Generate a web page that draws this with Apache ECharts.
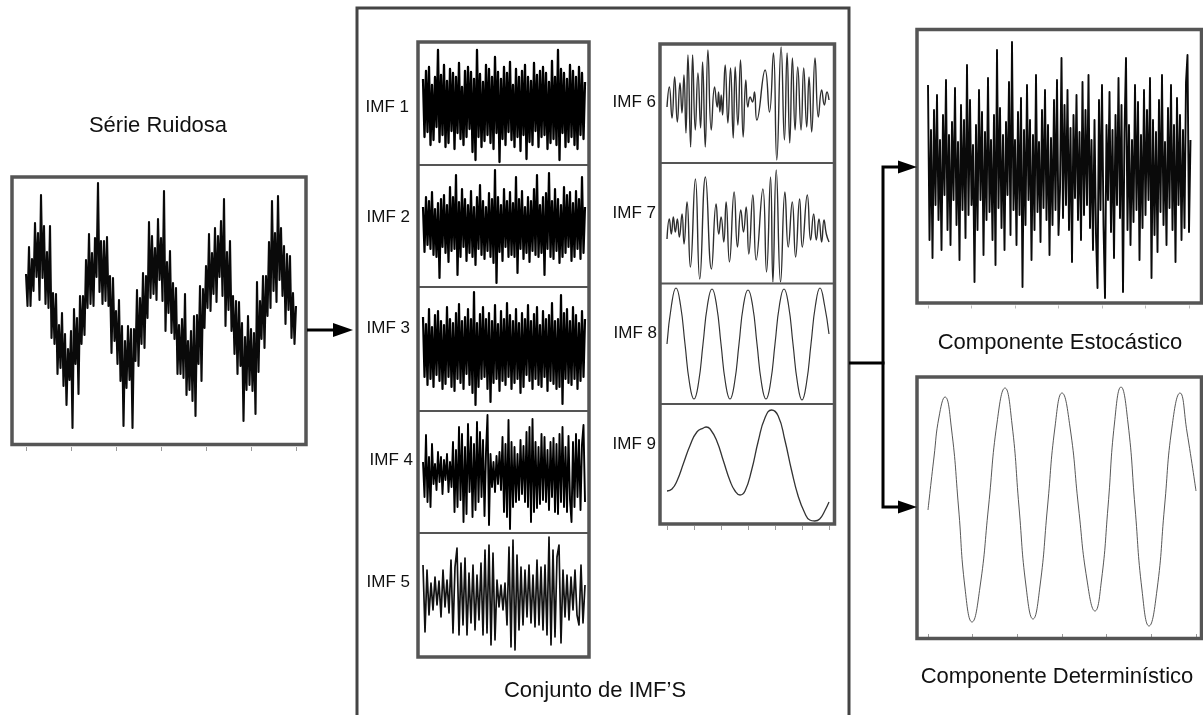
<!DOCTYPE html>
<html>
<head>
<meta charset="utf-8">
<script src="https://cdn.jsdelivr.net/npm/echarts@6/dist/echarts.min.js"></script>
<style>
  html, body { margin: 0; padding: 0; background: #fff; }
  #chart { width: 1203px; height: 715px; }
</style>
</head>
<body>
<div id="chart"></div>
<script>
// ---- Signals (uniformly sampled series are plain arrays, others are [t, value]) ----
const serieRuidosa = [
  37,5,64,5,52,20,88,34,78,11,
  116,33,85,7,59,3,85,-27,18,-33,
  17,-63,-14,-57,-2,-75,-23,-94,-38,-69,
  -20,-117,2,-53,-7,-83,15,-33,15,-24,
  51,3,77,7,58,5,73,34,128,19,
  70,7,70,10,74,5,35,-42,33,-30,
  0,-53,11,-70,-15,-115,-30,-77,-15,-69,
  -18,-117,-18,-50,21,-55,13,-33,38,-37,
  35,-7,89,13,75,17,63,11,92,31,
  73,10,120,-20,49,-2,60,-22,28,-28,
  23,-63,-14,-63,-8,-67,17,-84,-30,-79,
  -20,-90,-5,-105,-4,-53,25,-70,22,-17,
  45,3,77,0,58,17,83,9,75,34,
  90,15,112,-15,59,1,70,-20,15,-43,
  10,-63,9,-55,-12,-110,-26,-79,-5,-74,
  -18,-80,-22,-103,29,-61,10,-28,35,-37,
  35,-5,69,3,110,20,78,9,115,31,
  83,15,65,-13,57,1,55,-27,18,-33,
  5
];

const imf1 = [
  28,-30,36,-25,40,-38,22,-33,30,-20,
  57,-35,32,-28,42,-40,26,-36,38,-24,
  34,-42,30,-26,44,-32,20,-38,36,-30,
  40,-22,35,-45,28,-53,57,-30,33,-40,
  25,-34,42,-28,38,-36,30,-42,50,-26,
  35,-55,28,-32,40,-38,34,-25,45,-33,
  22,-40,38,-30,30,-44,36,-28,42,-52,
  30,-35,26,-38,44,-24,32,-40,36,-30,
  40,-28,34,-42,25,-36,46,-32,30,-38,
  57,-53,38,-26,34,-40,28,-35,42,-30,
  36,-38,30,-42,40,-28,34,-32,25
];

const imf2 = [
  20,-25,30,-18,26,-22,35,-28,18,-30,
  24,-51,28,-20,32,-26,22,-35,40,-24,
  30,-22,52,-48,25,-30,38,-20,28,-34,
  22,-26,36,-30,20,-38,30,-22,42,-28,
  26,-32,20,-24,34,-30,28,-36,57,-56,
  30,-25,22,-34,38,-20,26,-30,35,-28,
  24,-30,50,-46,28,-22,36,-32,20,-26,
  30,-35,26,-24,38,-28,52,-30,22,-26,
  30,-48,34,-22,54,-30,26,-32,38,-24,
  28,-36,22,-30,40,-26,32,-20,35,-34,
  24,-30,36,-22,28,-32,50,-26,20
];

const imf3 = [
  32,-28,25,-36,40,-30,22,-38,34,-26,
  38,-32,28,-40,24,-35,42,-28,30,-38,
  26,-42,36,-30,45,-34,28,-40,32,-25,
  40,-36,30,-44,57,-56,26,-38,35,-30,
  42,-28,30,-40,36,-53,28,-34,44,-30,
  25,-42,38,-32,30,-36,46,-28,34,-40,
  28,-34,40,-30,26,-44,36,-38,30,-26,
  44,-32,28,-40,35,-30,42,-36,24,-38,
  38,-28,30,-42,34,-32,46,-35,28,-40,
  30,-38,54,-55,36,-30,40,-34,28,-36,
  42,-30,34,-40,26,-32,38,-28,30
];

const imf4 = [
  10,-25,37,-30,15,-35,28,-12,8,-18,
  20,-10,15,-22,12,-8,18,-20,10,-15,
  30,-40,22,-35,45,-28,38,-50,25,-42,
  48,-20,35,-45,28,-38,50,-30,40,-25,
  32,-44,20,57,-53,18,-15,10,-20,16,
  -12,20,-18,35,-40,28,-45,52,-57,30,
  -35,25,-30,18,-28,32,-22,26,-30,40,
  -35,45,-50,53,-40,30,-36,25,-32,38,
  -28,35,-30,22,-38,30,-25,34,-40,28,
  -42,38,-30,45,-35,25,-40,36,-28,-50,
  30,-35,38,-25,32,-38,28,47,-30
];

const imf5 = [
  30,-37,25,-20,12,-15,18,-10,14,-22,
  25,-12,15,-18,35,-38,28,47,-40,32,
  -30,37,-40,22,-28,30,-35,20,-25,32,
  -40,45,-38,50,-50,42,-45,15,-12,10,
  -15,12,-30,48,-52,55,-55,40,-35,28,
  -30,25,-22,30,-28,20,-32,35,-30,28,
  -35,30,-40,58,-50,45,-42,38,50,-48,
  25,-22,20,-25,18,-15,25,-20,-30,30,
  -28,10
];

const imf6 = [
  [0,0],[7,20],[15,-11],[23,30],[31,-15],[39,24],[45,-6],[51,32],[57,-26],[63,52],
  [71,-40],[77,52],[85,-23],[93,34],[101,-21],[107,45],[115,-40],[123,57],[133,-23],[143,20],
  [151,0],[155,15],[159,-5],[163,12],[167,-8],[170,10],[175,42],[183,-16],[191,39],[199,-31],
  [205,40],[213,-18],[221,47],[229,-30],[237,27],[243,0],[250,10],[257,5],[263,15],[270,-13],
  [295,37],[308,-5],[320,54],[330,-53],[343,60],[353,-33],[361,54],[369,-36],[377,49],[385,-23],
  [393,40],[403,-23],[411,39],[420,-20],[427,30],[435,-25],[445,49],[455,-10],[465,17],[473,2],
  [481,15],[487,7]
];

const imf7 = [
  [0,-12],[7,8],[13,-7],[19,10],[25,-5],[31,8],[37,-10],[45,13],[51,-17],[60,25],
  [70,-40],[85,48],[98,-52],[115,50],[133,-42],[147,23],[155,-7],[162,10],[170,-15],[177,25],
  [187,-35],[201,35],[211,-20],[221,17],[229,-5],[237,20],[245,-27],[257,32],[267,-33],[287,38],
  [298,-45],[310,50],[317,-55],[327,57],[340,-55],[353,35],[363,-20],[375,25],[385,-30],[397,28],
  [405,-20],[420,32],[430,-13],[439,13],[447,-13],[455,8],[463,-15],[470,7],[477,-7],[485,-15]
];

const imf8 = [
  0,39,56,39,0,-39,-55,-39,
  0,39,55,39,0,-39,-55,-39,
  0,39,54,39,0,-39,-55,-39,
  0,39,55,39,0,-39,-56,-39,
  0,39,56,39,10
];

const imf9 = [
  [0,-28],[15,-26],[30,-18],[50,0],[70,18],[90,31],[110,35],[118,36],[130,34],[150,22],
  [170,2],[190,-18],[205,-28],[220,-32],[235,-28],[255,-7],[275,22],[295,45],[315,53],[335,47],
  [355,23],[375,-7],[395,-33],[415,-50],[430,-57],[445,-58],[460,-56],[475,-48],[488,-39]
];

const componenteEstocastico = [
  85,-70,40,-88,60,-35,75,-50,30,-80,
  55,-25,90,-60,35,-75,48,-30,82,-55,
  28,-90,65,-40,50,-68,105,-45,70,-35,
  25,-112,45,-60,80,-30,58,-85,38,-50,
  92,-42,30,-70,55,-95,120,-38,62,-58,
  35,-80,48,-25,88,-65,128,-40,30,-75,
  58,-45,72,-117,40,-55,85,-30,50,-90,
  35,-60,95,-42,28,-72,60,-38,80,-50,
  45,-85,32,-55,70,-40,90,-65,-20,112,
  -48,65,-35,80,-60,42,-92,55,-28,75,
  -50,38,-70,88,-45,60,-35,95,-58,30,
  -80,50,-65,-118,70,-40,85,-55,-128,45,
  -30,78,-62,40,-88,55,-35,92,-48,65,
  -122,38,112,-60,45,-75,30,-52,85,-40,
  68,-90,35,-58,80,-45,60,-30,92,-108,
  50,-65,38,-82,70,-42,95,-55,28,-75,
  62,-38,85,-60,45,-92,72,-35,55,-70,
  40,-58,88,115,-62,30
];

const componenteDeterministico = [
  [0,-3],[6,50],[11,90],[17,110],[23.5,78],[30.5,0],[37,-81],[44,-115],[52,-80],[60.5,0],
  [69,84],[77,119],[84,83],[91,0],[98,-79],[105,-112],[112,-79],[119.5,0],[127,80],[134,114],
  [142,80],[150.5,0],[159,-73],[167,-104],[173.5,-73],[180,0],[186.5,84],[193,120],[200,84],[207,0],
  [214,-83],[221,-119],[229,-83],[236.5,0],[244,80],[252,114],[259,75],[268,16]
];

const imfLabels = ['IMF 1', 'IMF 2', 'IMF 3', 'IMF 4', 'IMF 5', 'IMF 6', 'IMF 7', 'IMF 8', 'IMF 9'];
const tituloEntrada = 'Série Ruidosa';
const tituloConjunto = 'Conjunto de IMF’S';
const tituloEstocastico = 'Componente Estocástico';
const tituloDeterministico = 'Componente Determinístico';

// ---- Layout of the plotting panels ----
const FONT = '"Liberation Sans", Arial, Helvetica, sans-serif';
const panels = [
  { data: serieRuidosa, grid: [26, 179, 270, 264], y: [-132, 132], color: '#0a0a0a', lw: 2.1,
    tick: { every: 30, offset: 4, length: 4, color: '#999' } },
  { data: imf1, grid: [423, 44, 162, 120], y: [-57, 63], color: '#000', lw: 2.3 },
  { data: imf2, grid: [423, 166, 162, 120], y: [-59, 61], color: '#000', lw: 2.2 },
  { data: imf3, grid: [423, 288, 162, 122], y: [-61, 61], color: '#000', lw: 2.2 },
  { data: imf4, grid: [423, 412, 162, 120], y: [-60, 60], color: '#000', lw: 1.9 },
  { data: imf5, grid: [423, 534, 162, 121], y: [-60, 61], color: '#111', lw: 1.7 },
  { data: imf6, grid: [667, 46, 162, 116], y: [-55, 61], x: [0, 487], smooth: 0.5, color: '#2e2e2e', lw: 1.4 },
  { data: imf7, grid: [667, 164, 162, 118], y: [-55, 63], x: [0, 485], smooth: 0.5, color: '#2e2e2e', lw: 1.4 },
  { data: imf8, grid: [667, 284, 162, 119], y: [-59, 60], smooth: 0.5, color: '#333', lw: 1.2 },
  { data: imf9, grid: [667, 405, 162, 117], y: [-59, 58], x: [0, 488], smooth: 0.5, color: '#333', lw: 1.3,
    tick: { interval: 488 / 6, offset: 4, length: 4, color: '#999' } },
  { data: componenteEstocastico, grid: [928, 31.5, 262.5, 270], y: [-131.5, 138.5], color: '#0a0a0a', lw: 1.9,
    tick: { every: 29, offset: 4, length: 3, color: '#bbb' } },
  { data: componenteDeterministico, grid: [928, 379, 268, 258], y: [-130, 128], x: [0, 268], smooth: 0.5, color: '#444', lw: 0.9,
    tick: { interval: 268 / 6, offset: 0, length: 3, inside: true, color: '#999' } }
];

const grids = [], xAxes = [], yAxes = [], series = [];
panels.forEach((p, i) => {
  const [l, t, w, h] = p.grid;
  grids.push({ left: l, top: t, width: w, height: h, show: false, containLabel: false });
  const pairs = Array.isArray(p.data[0]);
  const xa = {
    gridIndex: i,
    position: 'bottom',
    axisLine: { show: false, onZero: false },
    axisLabel: { show: false },
    splitLine: { show: false },
    axisTick: { show: false }
  };
  if (pairs) {
    Object.assign(xa, { type: 'value', min: p.x[0], max: p.x[1] });
  } else {
    Object.assign(xa, { type: 'category', boundaryGap: false, data: p.data.map((_, k) => k) });
  }
  if (p.tick) {
    xa.offset = p.tick.offset;
    xa.axisTick = { show: true, inside: !!p.tick.inside, length: p.tick.length,
                    lineStyle: { color: p.tick.color, width: 1 } };
    if (pairs) xa.interval = p.tick.interval;
    else xa.axisTick.interval = p.tick.every - 1;
  }
  xAxes.push(xa);
  yAxes.push({ type: 'value', gridIndex: i, min: p.y[0], max: p.y[1], show: false });
  series.push({
    type: 'line', xAxisIndex: i, yAxisIndex: i, data: p.data,
    symbol: 'none', showSymbol: false, smooth: p.smooth || false,
    lineStyle: { color: p.color, width: p.lw, join: 'round' },
    silent: true, animation: false, z: 2
  });
});

// ---- Frames, connectors and text ----
const frame = (x, y, w, h, lw, color) => ({
  type: 'rect', z: 10, silent: true,
  shape: { x, y, width: w, height: h },
  style: { fill: 'none', stroke: color, lineWidth: lw }
});
const hline = (x1, x2, y, lw, color) => ({
  type: 'line', z: 10, silent: true,
  shape: { x1, y1: y, x2, y2: y },
  style: { stroke: color, lineWidth: lw }
});
const head = (pts) => ({
  type: 'polygon', z: 11, silent: true,
  shape: { points: pts }, style: { fill: '#000' }
});
const label = (text, x, y, size, align) => ({
  type: 'text', z: 12, silent: true, x, y,
  style: {
    text, font: size + 'px ' + FONT, fill: '#111',
    align, verticalAlign: 'middle', textAlign: align, textVerticalAlign: 'middle'
  }
});

const labelPos = [[409, 107], [410, 217], [410, 328], [413, 460], [410, 582],
                  [656, 102], [656, 213], [657, 333], [656, 444]];

const graphics = [
  // input series frame
  frame(12, 177, 294, 267.5, 3.5, '#555'),
  // decomposition frame
  frame(357, 8, 492, 730, 3, '#444'),
  // left IMF stack
  frame(418, 42, 171, 615, 3.5, '#555'),
  hline(418, 589, 165, 2.2, '#555'),
  hline(418, 589, 287, 2.2, '#555'),
  hline(418, 589, 411, 2.2, '#555'),
  hline(418, 589, 533, 2.2, '#555'),
  // right IMF stack
  frame(660, 44, 174.5, 480, 3.5, '#555'),
  hline(660, 834.5, 163, 2.2, '#555'),
  hline(660, 834.5, 283.5, 2.2, '#555'),
  hline(660, 834.5, 404, 2.2, '#555'),
  // output frames
  frame(917, 29.5, 284.5, 273.5, 3.5, '#555'),
  frame(917, 377, 284.5, 261.5, 3.5, '#555'),
  // input arrow
  hline(307, 335, 330, 3, '#000'),
  head([[333, 323], [353, 330], [333, 337]]),
  // split connector
  hline(849, 884.5, 363, 3, '#000'),
  { type: 'polyline', z: 10, silent: true,
    shape: { points: [[900, 167], [883, 167], [883, 507], [900, 507]] },
    style: { stroke: '#000', lineWidth: 3, fill: 'none' } },
  head([[898, 160.5], [917, 167], [898, 173.5]]),
  head([[898, 500.5], [917, 507], [898, 513.5]]),
  // titles
  label(tituloEntrada, 158, 126, 22, 'center'),
  label(tituloConjunto, 595, 691, 22, 'center'),
  label(tituloEstocastico, 1060, 343, 22, 'center'),
  label(tituloDeterministico, 1057, 677, 22, 'center')
];
imfLabels.forEach((txt, i) => {
  graphics.push(label(txt, labelPos[i][0], labelPos[i][1], 17, 'right'));
});

const chart = echarts.init(document.getElementById('chart'), null, { renderer: 'canvas' });
chart.setOption({
  backgroundColor: '#fff',
  animation: false,
  grid: grids,
  xAxis: xAxes,
  yAxis: yAxes,
  series: series,
  graphic: { elements: graphics }
});
</script>
</body>
</html>
